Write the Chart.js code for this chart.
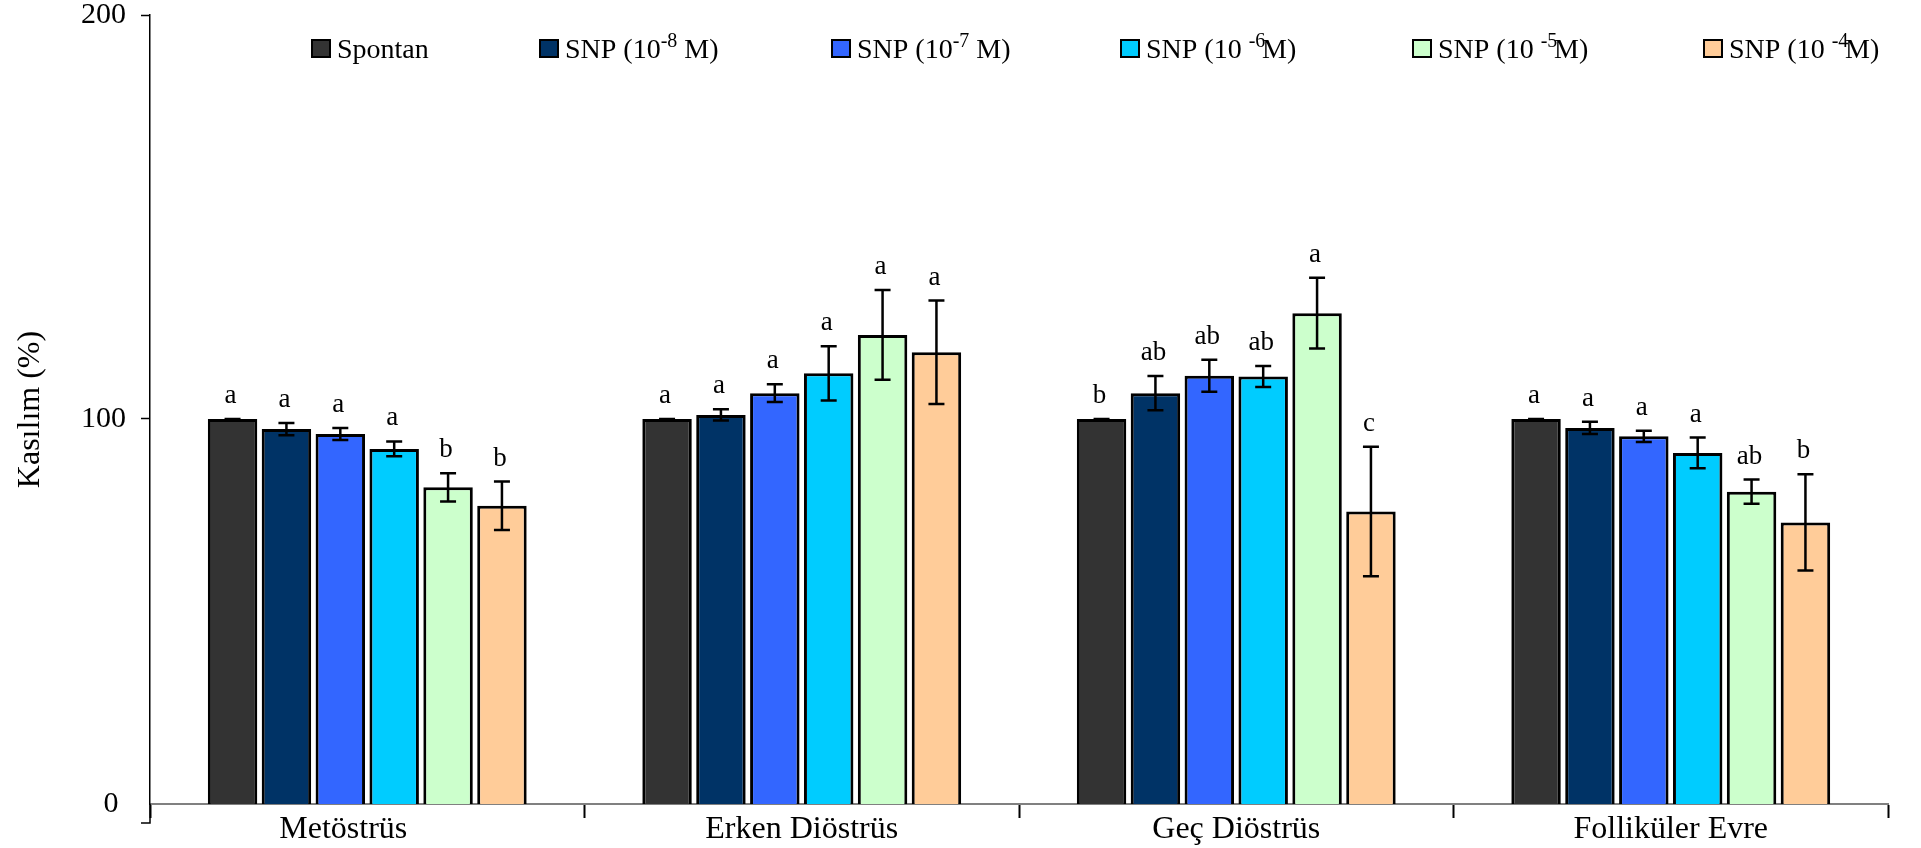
<!DOCTYPE html>
<html>
<head>
<meta charset="utf-8">
<script src="https://cdn.jsdelivr.net/npm/chart.js@4.4.1/dist/chart.umd.min.js"></script>
<style>
  html, body { margin: 0; padding: 0; background: #fff; }
  canvas { display: block; }
</style>
</head>
<body>
<canvas id="bars" width="1921" height="848"></canvas>
<script>
// phases of the cycle (x categories); the first label carries trailing spaces in the original
const phases = ['Metöstrüs      ', 'Erken Diöstrüs', 'Geç Diöstrüs', 'Folliküler Evre'];

// mean contraction (% of spontaneous)
const spontan = [100, 100, 100, 100];
const snp8 = [97.5, 101.0, 106.4, 97.8];
const snp7 = [96.3, 106.4, 110.7, 95.7];
const snp6 = [92.6, 111.3, 110.5, 91.6];
const snp5 = [83.1, 120.8, 126.2, 82.0];
const snp4 = [78.5, 116.5, 77.1, 74.4];

// standard errors
const errSpontan = [0, 0, 0, 0];
const err8 = [1.5, 1.4, 4.25, 1.5];
const err7 = [1.5, 2.2, 3.95, 1.4];
const err6 = [1.85, 6.7, 2.6, 3.8];
const err5 = [3.5, 11.1, 8.75, 3.0];
const err4 = [6.0, 12.8, 16.0, 11.9];

// significance letters
const letSpontan = ['a', 'a', 'b', 'a'];
const let8 = ['a', 'a', 'ab', 'a'];
const let7 = ['a', 'a', 'ab', 'a'];
const let6 = ['a', 'a', 'ab', 'a'];
const let5 = ['b', 'a', 'a', 'ab'];
const let4 = ['b', 'a', 'c', 'b'];

// legend text pieces (exponent drawn raised)
const namePre = ['Spontan', 'SNP (10', 'SNP (10', 'SNP (10 ', 'SNP (10 ', 'SNP (10 '];
const nameSup = ['', '-8', '-7', '-6', '-5', '-4'];
const namePost = ['', ' M)', ' M)', 'M)', 'M)', 'M)'];

const yTicks = [0, 100, 200];

const colors = ['#333333', '#003366', '#3366ff', '#00ccff', '#ccffcc', '#ffcc99'];
const legendX = [312, 540, 832, 1121, 1413, 1704];

const SERIF = '"Liberation Serif", "Times New Roman", serif';
// the horizontal axis crosses a little above the 0 mark
const Y_FLOOR = 4.7;

const values = [spontan, snp8, snp7, snp6, snp5, snp4];
const errors = [errSpontan, err8, err7, err6, err5, err4];
const letters = [letSpontan, let8, let7, let6, let5, let4];

const datasets = values.map((v, i) => ({
  label: namePre[i] + nameSup[i] + namePost[i],
  data: v,
  errors: errors[i],
  letters: letters[i],
  backgroundColor: colors[i],
  borderColor: '#000',
  borderWidth: 3,
  borderSkipped: false,
  categoryPercentage: 0.744,
  barPercentage: 0.918
}));

// error bars + letters over each bar
const errorBars = {
  id: 'errorBars',
  afterDatasetsDraw(chart) {
    const ctx = chart.ctx;
    const y = chart.scales.y;
    ctx.save();
    chart.data.datasets.forEach((ds, i) => {
      const meta = chart.getDatasetMeta(i);
      meta.data.forEach((bar, j) => {
        const v = ds.data[j], e = ds.errors[j];
        const top = y.getPixelForValue(v + e);
        const bot = y.getPixelForValue(v - e);
        ctx.strokeStyle = '#000';
        ctx.lineWidth = 2.5;
        ctx.beginPath();
        ctx.moveTo(bar.x, top); ctx.lineTo(bar.x, bot);
        ctx.moveTo(bar.x - 8, top); ctx.lineTo(bar.x + 8, top);
        ctx.moveTo(bar.x - 8, bot); ctx.lineTo(bar.x + 8, bot);
        ctx.stroke();
        ctx.fillStyle = '#000';
        ctx.font = '27px ' + SERIF;
        ctx.textAlign = 'center';
        ctx.textBaseline = 'alphabetic';
        ctx.fillText(ds.letters[j], bar.x - 2, top - 16);
      });
    });
    ctx.restore();
  }
};

// y axis runs down to its 0 tick below the category axis
const axisStub = {
  id: 'axisStub',
  afterDraw(chart) {
    const ctx = chart.ctx;
    const y = chart.scales.y;
    const x0 = chart.chartArea.left;
    const y0 = y.getPixelForValue(0);
    ctx.save();
    ctx.strokeStyle = '#000';
    ctx.lineWidth = 1.5;
    ctx.beginPath();
    ctx.moveTo(x0, chart.chartArea.bottom);
    ctx.lineTo(x0, y0);
    ctx.lineTo(x0 - 9, y0);
    ctx.stroke();
    ctx.restore();
  }
};

// legend row inside the plot, with superscript exponents
const legendRow = {
  id: 'legendRow',
  afterDraw(chart) {
    const ctx = chart.ctx;
    ctx.save();
    chart.data.datasets.forEach((ds, i) => {
      const x = legendX[i];
      ctx.fillStyle = colors[i];
      ctx.fillRect(x, 40, 18, 17);
      ctx.strokeStyle = '#000';
      ctx.lineWidth = 2;
      ctx.strokeRect(x, 40, 18, 17);
      ctx.fillStyle = '#000';
      ctx.textAlign = 'left';
      ctx.textBaseline = 'alphabetic';
      ctx.font = '28px ' + SERIF;
      let tx = x + 25;
      ctx.fillText(namePre[i], tx, 58);
      tx += ctx.measureText(namePre[i]).width;
      if (nameSup[i]) {
        ctx.font = '20px ' + SERIF;
        ctx.fillText(nameSup[i], tx, 47);
        const w = ctx.measureText(nameSup[i]).width;
        tx += namePost[i].startsWith(' ') ? w : w * 0.8;
        ctx.font = '28px ' + SERIF;
        ctx.fillText(namePost[i], tx, 58);
      }
    });
    ctx.restore();
  }
};

new Chart(document.getElementById('bars'), {
  type: 'bar',
  data: { labels: phases, datasets: datasets },
  options: {
    responsive: false,
    animation: false,
    layout: { padding: { top: 15, right: 33, left: 0, bottom: 0 } },
    plugins: { legend: { display: false }, tooltip: { enabled: false } },
    scales: {
      x: {
        grid: { drawOnChartArea: false, offset: true, tickLength: 14, tickColor: '#000', tickWidth: 2 },
        border: { color: '#808080', width: 2 },
        ticks: { color: '#000', font: { family: SERIF, size: 32 }, padding: -8 },
        afterFit: s => { s.height = 44; s.paddingLeft = 0; s.paddingRight = 0; }
      },
      y: {
        min: Y_FLOOR,
        max: 200,
        afterBuildTicks: s => {
          s.ticks = yTicks.map(v => ({ value: v === 0 ? Y_FLOOR : v }));
        },
        ticks: {
          color: '#000',
          padding: 15,
          font: { family: SERIF, size: 30, lineHeight: 1 },
          callback: v => (v === Y_FLOOR ? '0 ' : v)
        },
        grid: {
          drawOnChartArea: false,
          tickLength: 9,
          tickWidth: 1.5,
          tickColor: c => (c.tick && c.tick.value === Y_FLOOR ? 'rgba(0,0,0,0)' : '#000')
        },
        border: { color: '#000', width: 1.5 },
        title: {
          display: true,
          text: 'Kasılım (%)',
          color: '#000',
          font: { family: SERIF, size: 32 },
          padding: { top: 11, bottom: 0 }
        },
        afterFit: s => { s.width = 150; s.paddingTop = 0; s.paddingBottom = 0; }
      }
    }
  },
  plugins: [errorBars, axisStub, legendRow]
});
</script>
</body>
</html>
